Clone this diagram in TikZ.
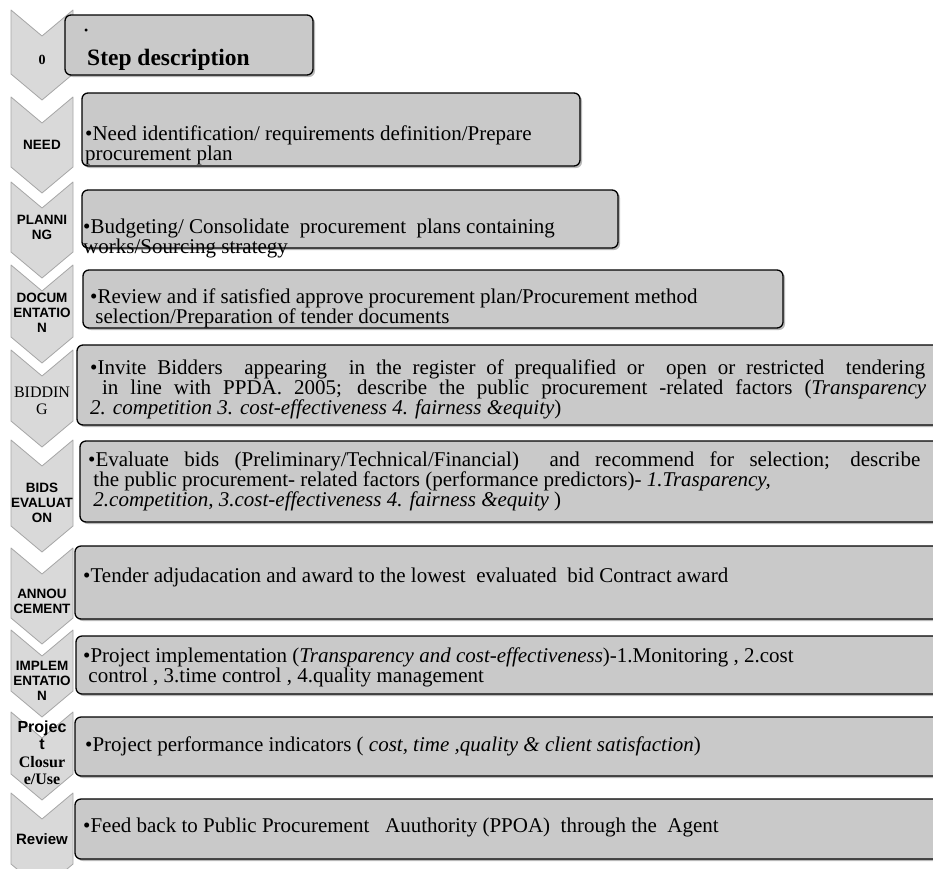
\documentclass[tikz,border=0pt]{standalone}
\usepackage{fontspec}
\setmainfont{Liberation Serif}
\setsansfont{Liberation Sans}
\usepackage{tikz}
\usetikzlibrary{shadows, positioning}

\begin{document}
\begin{tikzpicture}[x=1pt, y=-1pt,
    chevron/.style={draw=gray!70, fill=gray!30, line width=0.8pt, line join=round},
    stepbox/.style={draw=black, fill=gray!42, line width=1.3pt, rounded corners=6pt,
        drop shadow={shadow xshift=2pt, shadow yshift=-2pt, opacity=0.55}},
    steptext/.style={anchor=west, align=left, inner sep=0pt,
        font=\fontsize{21}{20}\selectfont},
    steplabel/.style={align=center, inner sep=0pt,
        font=\sffamily\bfseries\fontsize{13.5}{15}\selectfont}]

    % =================================================================
    % KHUNG ẢNH
    % =================================================================
    \useasboundingbox (0,0) rectangle (933,868);
    \fill[white] (0,0) rectangle (933,868);
    \clip (0,0) rectangle (933,868);

    % =================================================================
    % CỘT TRÁI: CÁC MŨI TÊN CHEVRON
    % =================================================================
    \foreach \t/\b in {10/100, 97/193, 182/278, 265/363, 350/447,
                       440/552, 548/644, 630/717, 712/800, 793/890}
        \draw[chevron] (11,\t) -- (42,\t+26) -- (73,\t) -- (73,\b-26)
            -- (42,\b) -- (11,\b-26) -- cycle;

    % Nhãn của các bước
    \node[steplabel, font=\bfseries\fontsize{14}{15}\selectfont] (l0) at (42,60) {0};
    \node[steplabel] (lneed) at (42,145) {NEED};
    \node[steplabel] (lplan) at (42,227) {PLANNI\\NG};
    \node[steplabel] (ldoc) at (42,313) {DOCUM\\ENTATIO\\N};
    \node[steplabel, font=\fontsize{16}{17}\selectfont] (lbid) at (42,401) {BIDDIN\\G};
    \node[steplabel] (lbids) at (42,503) {BIDS\\EVALUAT\\ON};
    \node[steplabel] (lann) at (42,601) {ANNOU\\CEMENT};
    \node[steplabel] (limpl) at (42,681) {IMPLEM\\ENTATIO\\N};
    \node[steplabel, font=\bfseries\fontsize{16}{17.5}\selectfont] (lclos) at (42,753)
        {\sffamily Projec\\\sffamily t\\Closur\\e/Use};
    \node[steplabel, font=\sffamily\bfseries\fontsize{15}{16}\selectfont] (lrev) at (42,839) {Review};

    % =================================================================
    % CỘT PHẢI: CÁC KHUNG MÔ TẢ
    % =================================================================
    % Các khung có góc bo tròn
    \draw[stepbox] (65,15) rectangle (313,75);
    \draw[stepbox] (82,93) rectangle (580,166);
    \draw[stepbox] (82,190) rectangle (618,248);
    \draw[stepbox] (83,270) rectangle (783,328);

    % Các khung kéo dài ra ngoài mép phải
    \draw[stepbox] (77,345) rectangle (950,425);
    \draw[stepbox] (80,441) rectangle (950,522);
    \draw[stepbox] (75,546) rectangle (950,619);
    \draw[stepbox] (76,636) rectangle (950,694);
    \draw[stepbox] (75,717) rectangle (950,776);
    \draw[stepbox] (75,799) rectangle (950,859);

    % Nội dung các khung
    \node[steptext, font=\fontsize{12}{12}\selectfont] (t0a) at (84,32) {•};
    \node[steptext, font=\bfseries\fontsize{23.5}{24}\selectfont] (t0) at (87,60) {Step description};
    \node[steptext] (tneed) at (85,145)
        {•Need identification/ requirements definition/Prepare\\procurement plan};
    \node[steptext] (tplan) at (83,238)
        {•Budgeting/ Consolidate\ \ procurement\ \ plans containing\\works/Sourcing strategy};
    \node[steptext] (tdoc) at (90,308)
        {•Review and if satisfied approve procurement plan/Procurement method\\
         \ selection/Preparation of tender documents};
    \node[steptext] (tbid) at (90,389)
        {\makebox[835pt][s]{•Invite Bidders\ \ appearing\ \ in the register of prequalified or\ \ open or restricted\ \ tendering}\\
         \makebox[836pt][s]{\ in line with PPDA. 2005; describe the public procurement -related factors (\textit{Transparency}}\\
         \textit{2. competition 3. cost-effectiveness 4. fairness \&equity})};
    \node[steptext] (tbids) at (88,481)
        {\makebox[832pt][s]{•Evaluate bids (Preliminary/Technical/Financial)\ \ and recommend for selection; describe}\\
         \ the public procurement- related factors (performance predictors)- \textit{1.Trasparency,}\\
         \ \textit{2.competition, 3.cost-effectiveness 4. fairness \&equity} )};
    \node[steptext] (tann) at (83,577)
        {•Tender adjudacation and award to the lowest\ \ evaluated\ \ bid Contract award};
    \node[steptext] (timpl) at (83,667)
        {•Project implementation (\textit{Transparency and cost-effectiveness})-1.Monitoring , 2.cost\\
         \ control , 3.time control , 4.quality management};
    \node[steptext] (tclos) at (85,746)
        {•Project performance indicators ( \textit{cost, time ,quality \& client satisfaction})};
    \node[steptext] (trev) at (83,827)
        {•Feed back to Public Procurement\ \ \ Auuthority (PPOA)\ \ through the\ \ Agent};

\end{tikzpicture}
\end{document}
